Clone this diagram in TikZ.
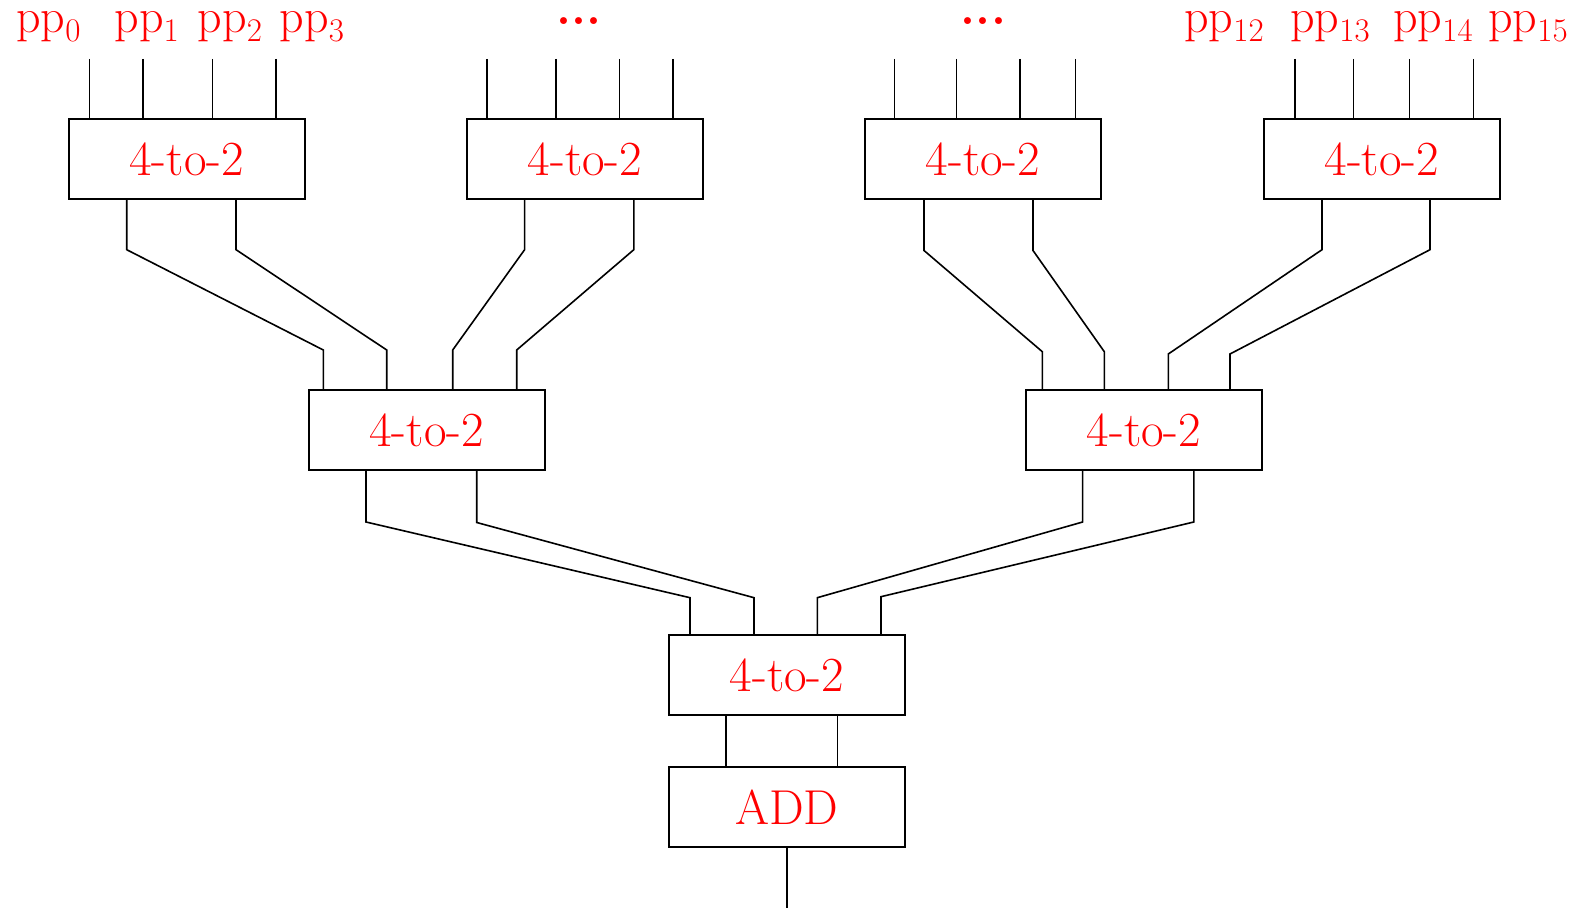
\documentclass[tikz,border=0pt]{standalone}
\usepackage{tikz}
\begin{document}
\begin{tikzpicture}[x=0.5pt,y=-0.5pt,
  line width=0.8pt,
  blk/.style={draw=black, line width=0.9pt, minimum width=118pt, minimum height=40pt, inner sep=0pt,
    text=red, font=\fontsize{24.5}{28}\selectfont},
  lbl/.style={text=red, inner sep=0pt, anchor=base, font=\fontsize{24}{28}\selectfont},
  wire/.style={draw=black, line width=0.8pt}]
\useasboundingbox (0,0) rectangle (1585,908);

% blocks
\node[blk] (A1) at (186.6,159.3) {4-to-2};
\node[blk] (A2) at (585,159.3) {4-to-2};
\node[blk] (A3) at (983,159.3) {4-to-2};
\node[blk] (A4) at (1381.7,159.3) {4-to-2};
\node[blk] (B1) at (426.7,430) {4-to-2};
\node[blk] (B2) at (1144,430) {4-to-2};
\node[blk] (C) at (787,675) {4-to-2};
\node[blk] (D) at (787,807) {ADD};

% labels
\newcommand{\ppl}[1]{pp{\fontsize{16.5}{18}\selectfont\raisebox{-4.5pt}{#1}}}
\newcommand{\mydots}{\raisebox{4pt}{\bfseries...}}
\node[lbl] (p0) at (48.5,33) {\ppl{0}};
\node[lbl] (p1) at (146.6,33) {\ppl{1}};
\node[lbl] (p2) at (230,33) {\ppl{2}};
\node[lbl] (p3) at (312,33) {\ppl{3}};
\node[lbl] (dl) at (579,33) {\mydots};
\node[lbl] (dr) at (983.5,33) {\mydots};
\node[lbl] (p12) at (1224,33) {\ppl{12}};
\node[lbl] (p13) at (1330,33) {\ppl{13}};
\node[lbl] (p14) at (1433,33) {\ppl{14}};
\node[lbl] (p15) at (1528,33) {\ppl{15}};

% input wires
\foreach \n/\xx in {a/89.3,b/142.7,c/212.3,d/276} {
  \coordinate (i1\n) at (\xx,59);
  \draw[wire] (i1\n) -- (i1\n |- A1.north);
}
\foreach \n/\xx in {a/487,b/556,c/619.6,d/673} {
  \coordinate (i2\n) at (\xx,59);
  \draw[wire] (i2\n) -- (i2\n |- A2.north);
}
\foreach \n/\xx in {a/894.6,b/956.3,c/1020,d/1075.5} {
  \coordinate (i3\n) at (\xx,59);
  \draw[wire] (i3\n) -- (i3\n |- A3.north);
}
\foreach \n/\xx in {a/1295,b/1353.3,c/1409.3,d/1473.3} {
  \coordinate (i4\n) at (\xx,59);
  \draw[wire] (i4\n) -- (i4\n |- A4.north);
}

% level 1 -> level 2
\draw[wire] (126.7,0 |- A1.south) -- (126.7,249.7) -- (323.3,350) -- (323.3,0 |- B1.north);
\draw[wire] (236,0 |- A1.south) -- (236,249.7) -- (386.7,350) -- (386.7,0 |- B1.north);
\draw[wire] (524.6,0 |- A2.south) -- (524.6,249.7) -- (452.7,350) -- (452.7,0 |- B1.north);
\draw[wire] (633.8,0 |- A2.south) -- (633.8,249.7) -- (516.7,350) -- (516.7,0 |- B1.north);

\draw[wire] (924,0 |- A3.south) -- (924,250.5) -- (1042.3,351.7) -- (1042.3,0 |- B2.north);
\draw[wire] (1033,0 |- A3.south) -- (1033,250.5) -- (1104.3,351.7) -- (1104.3,0 |- B2.north);
\draw[wire] (1322,0 |- A4.south) -- (1322,249.7) -- (1168.3,354) -- (1168.3,0 |- B2.north);
\draw[wire] (1430,0 |- A4.south) -- (1430,249.7) -- (1230,354) -- (1230,0 |- B2.north);

% level 2 -> level 3
\draw[wire] (366,0 |- B1.south) -- (366,522) -- (690,597.7) -- (690,0 |- C.north);
\draw[wire] (476.7,0 |- B1.south) -- (476.7,522.5) -- (754,597.7) -- (754,0 |- C.north);
\draw[wire] (1082.6,0 |- B2.south) -- (1082.6,522) -- (817.3,597.7) -- (817.3,0 |- C.north);
\draw[wire] (1193.8,0 |- B2.south) -- (1193.8,522) -- (881,596.7) -- (881,0 |- C.north);

% level 3 -> adder
\draw[wire] (726,0 |- C.south) -- (726,0 |- D.north);
\draw[wire] (837.3,0 |- C.south) -- (837.3,0 |- D.north);
\coordinate (out) at (786.7,908);
\draw[wire] (out |- D.south) -- (out);
\end{tikzpicture}
\end{document}
